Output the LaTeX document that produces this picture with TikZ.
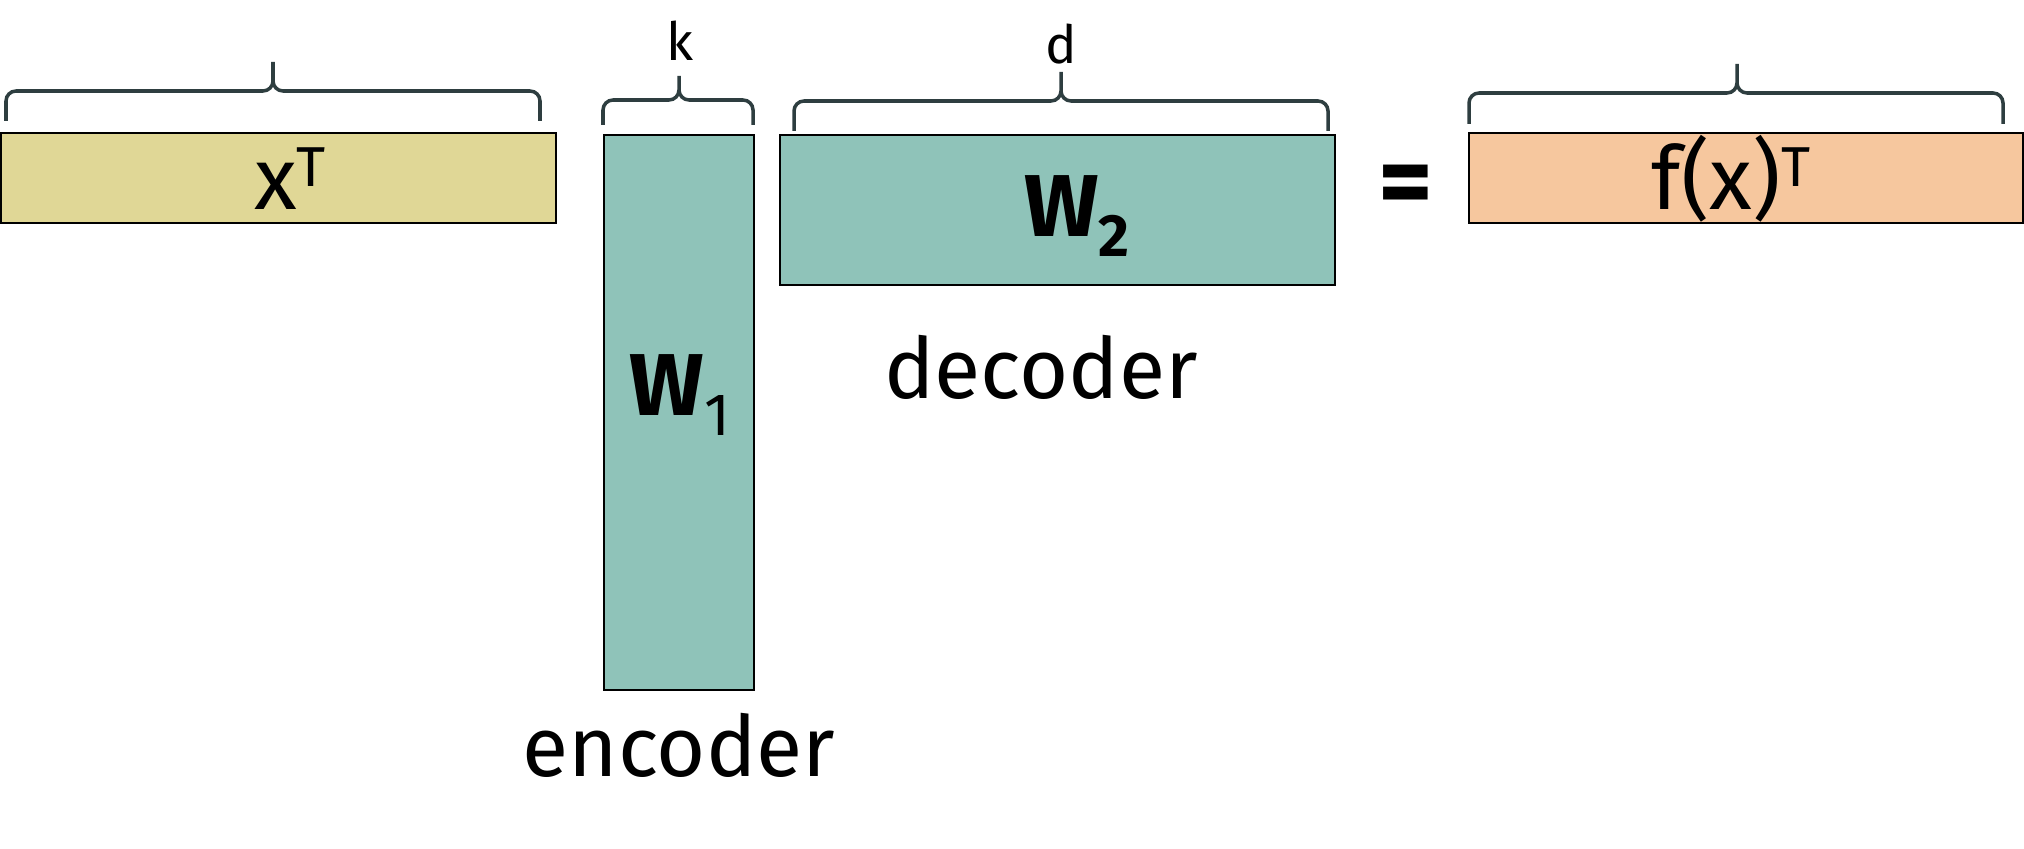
\documentclass[tikz,border=0pt]{standalone}
\usepackage{fontspec}
\setmainfont{Fira Sans}
\definecolor{xcol}{HTML}{E0D796}
\definecolor{wcol}{HTML}{8FC3B9}
\definecolor{fcol}{HTML}{F6C79E}
\definecolor{bracecol}{HTML}{2E3E40}
\newcommand{\tsup}[1]{\raisebox{0.27em}{\fontsize{16}{16}\selectfont #1}}
\newcommand{\tsub}[1]{\raisebox{-0.22em}{\fontsize{17}{17}\selectfont #1}}

\begin{document}
\begin{tikzpicture}[x=0.01cm, y=-0.01cm,
  mat/.style={draw=black, line width=0.8pt},
  brc/.style={draw=bracecol, line width=1pt, rounded corners=0.1cm},
  lbl/.style={inner sep=0pt, anchor=base, font=\fontsize{25}{30}\selectfont},
  dim/.style={inner sep=0pt, anchor=base, font=\fontsize{15}{18}\selectfont}]
  \useasboundingbox (0,0) rectangle (2024,849);
  % the matrices
  \draw[mat, fill=xcol] (1,133) rectangle (556,223);
  \draw[mat, fill=wcol] (604,135) rectangle (754,690);
  \draw[mat, fill=wcol] (780,135) rectangle (1335,285);
  \draw[mat, fill=fcol] (1469,133) rectangle (2023,223);
  \node[lbl] (xlab) at (290,210) {x\tsup{T}};
  \node[lbl] (wone) at (680,416) {\bfseries W\tsub{\mdseries 1}};
  \node[lbl] (wtwo) at (1077,237) {\bfseries W\tsub{2}};
  \node[lbl, anchor=center, font=\fontsize{30}{34}\selectfont] (eq) at (1406,191) {\bfseries =};
  \node[lbl] (flab) at (1731,210) {f(x)\tsup{T}};
  % braces
  \draw[brc] (6,121) -- (6,91) -- (273,91) -- (273,62)
             (273,62) -- (273,91) -- (540,91) -- (540,121);
  \draw[brc] (603,125) -- (603,100) -- (679,100) -- (679,76)
             (679,76) -- (679,100) -- (753,100) -- (753,125);
  \draw[brc] (794,131) -- (794,101) -- (1061,101) -- (1061,72)
             (1061,72) -- (1061,101) -- (1328,101) -- (1328,131);
  \draw[brc] (1469,124) -- (1469,93) -- (1737,93) -- (1737,64)
             (1737,64) -- (1737,93) -- (2003,93) -- (2003,124);
  \node[dim] (klab) at (680,61) {k};
  \node[dim] (dlab) at (1061,64) {d};
  % names
  \node[lbl, font=\fontsize{24}{28}\selectfont] (declab) at (1041,399) {decoder};
  \node[lbl, font=\fontsize{24}{28}\selectfont] (enclab) at (679,776) {encoder};
\end{tikzpicture}
\end{document}
